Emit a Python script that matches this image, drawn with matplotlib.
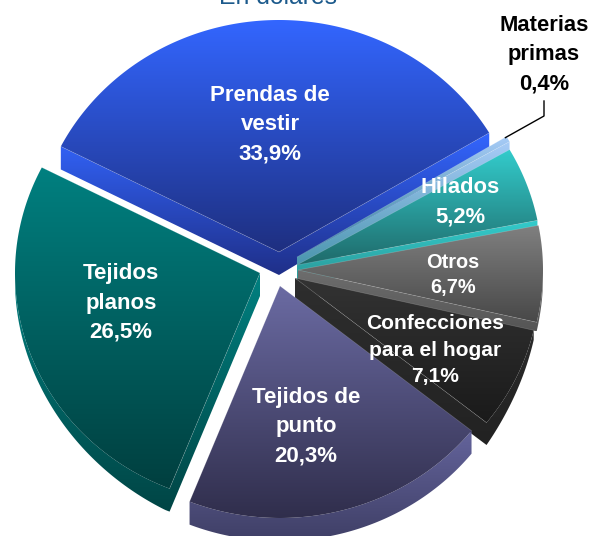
import numpy as np
import matplotlib
matplotlib.use("Agg")
import matplotlib.pyplot as plt
from matplotlib.path import Path
from matplotlib.patches import PathPatch
from matplotlib.colors import to_rgb

categories = ["Prendas de\nvestir", "Tejidos\nplanos", "Tejidos de\npunto",
              "Confecciones\npara el hogar", "Otros", "Hilados", "Materias\nprimas"]
shares = [33.9, 26.5, 20.3, 7.1, 6.7, 5.2, 0.4]
title_text = "En dólares"

# styling / layout (pixel space)
START_ANGLE = 30.9
RX, RY = 245, 232
DEPTH = 23
apexes = [(279, 252), (260, 273), (280, 286), (295, 278), (298, 270), (297, 265), (297, 257)]
top_cols = [("#3366ff", "#1e2f80"), ("#008080", "#003f3f"), ("#6b6ba3", "#302e4c"),
            ("#333333", "#1a1a1a"), ("#808080", "#484848"), ("#33cccc", "#1f6a6a"),
            ("#a8ccf8", "#2f7f95")]
side_cols = [("#3366ff", "#1f2f88"), ("#008080", "#004545"), ("#64649c", "#3f3f66"),
             ("#2e2e2e", "#222222"), ("#6e6e6e", "#555555"), ("#33cccc", "#2a9090"),
             ("#a8ccf8", "#3f8fa5")]
draw_order = [0, 1, 6, 5, 4, 3, 2]
label_pos = [(270, 125), (121, 303), (306, 426.5), (435, 350), (453, 275), (460, 202), (544, 54.5)]
label_size = [16.0, 16.0, 16.0, 15.1, 14.4, 15.8, 15.8]
label_col = ["white"] * 6 + ["black"]
label_spacing = [1.52, 1.52, 1.52, 1.47, 1.42, 1.52, 1.52]

plt.rcParams["font.family"] = ["Liberation Sans", "DejaVu Sans"]
fig = plt.figure(figsize=(5.91, 5.36), dpi=100)
ax = fig.add_axes([0, 0, 1, 1])
ax.axis("off")


def gradient(path, c0, c1, y0, y1, z):
    a = np.linspace(0, 1, 256)[:, None, None]
    img = (1 - a) * np.array(to_rgb(c0))[None, None, :] + a * np.array(to_rgb(c1))[None, None, :]
    bb = path.get_extents()
    patch = PathPatch(path, fc="none", ec="none", transform=ax.transData)
    ax.add_patch(patch)
    im = ax.imshow(img, extent=(bb.x0 - 1, bb.x1 + 1, y1, y0), origin="upper",
                   aspect="auto", zorder=z, interpolation="bilinear")
    im.set_clip_path(patch)


def slice_polygon(apex, a0, a1):
    t = np.radians(np.linspace(a0, a1, max(int(abs(a1 - a0) * 2), 4)))
    xs = apex[0] + RX * np.cos(t)
    ys = apex[1] - RY * np.sin(t)
    return np.vstack([[apex], np.column_stack([xs, ys])])


def side_path(poly, depth_fn):
    """Extruded faces of the polygon whose outward normal points down the screen."""
    verts, codes = [], []
    n = len(poly)
    area = 0.5 * np.sum(poly[:, 0] * np.roll(poly[:, 1], -1) - np.roll(poly[:, 0], -1) * poly[:, 1])
    for i in range(n):
        p, q = poly[i], poly[(i + 1) % n]
        e = q - p
        ny = -e[0] if area > 0 else e[0]
        if ny <= 0:
            continue
        quad = [p, q, q + [0, depth_fn(q)], p + [0, depth_fn(p)]]
        qa = np.array(quad)
        s = np.sum(qa[:, 0] * np.roll(qa[:, 1], -1) - np.roll(qa[:, 0], -1) * qa[:, 1])
        if s < 0:
            quad = quad[::-1]
        verts += [*quad, quad[0]]
        codes += [Path.MOVETO, Path.LINETO, Path.LINETO, Path.LINETO, Path.CLOSEPOLY]
    return Path(verts, codes)


def depth_for(i):
    if i == 0:
        return lambda p: DEPTH - 7 * max(0.0, (p[0] - 279) / 213)
    if i == 1:
        return lambda p: min(DEPTH, 8 + 15 * max(0.0, (p[0] - 15) / 150))
    if i in (3, 4, 5):
        return lambda p: DEPTH - 15 * np.clip((p[0] - 484) / 56, 0, 1)
    return lambda p: DEPTH


angles = START_ANGLE + np.cumsum([0] + shares) * 3.6
z = 2
for i in draw_order:
    a0, a1 = angles[i], angles[i + 1]
    apex = apexes[i]
    poly = slice_polygon(apex, a0, a1)
    sp = side_path(poly, depth_for(i))
    bb = sp.get_extents()
    gradient(sp, *side_cols[i], bb.y0, bb.y1, z)
    z += 1
    top = Path(np.vstack([poly, poly[0]]), closed=True)
    tb = top.get_extents()
    gradient(top, *top_cols[i], tb.y0, tb.y1, z)
    z += 1
    ax.plot([poly[1, 0], apex[0], poly[-1, 0]], [poly[1, 1], apex[1], poly[-1, 1]],
            color="white", lw=0.5, alpha=0.2, zorder=z)
    z += 1

for i, (cat, v) in enumerate(zip(categories, shares)):
    label = cat + "\n" + f"{v:.1f}".replace(".", ",") + "%"
    ax.text(*label_pos[i], label, ha="center", va="center", fontweight="bold",
            fontsize=label_size[i], color=label_col[i], linespacing=label_spacing[i], zorder=60)

# leader line of the smallest slice
end = slice_polygon(apexes[6], angles[6], angles[7])[-1]
ax.plot([544, 544, end[0] - 1], [101, 116, end[1] + 1], color="black", lw=1, zorder=59)

ax.text(278, 3.5, title_text, ha="center", va="baseline", fontsize=17.8, color="#1c5a8c")

ax.set_xlim(0, 591)
ax.set_ylim(536, 0)
fig.savefig("out.png", dpi=100, facecolor="white")
